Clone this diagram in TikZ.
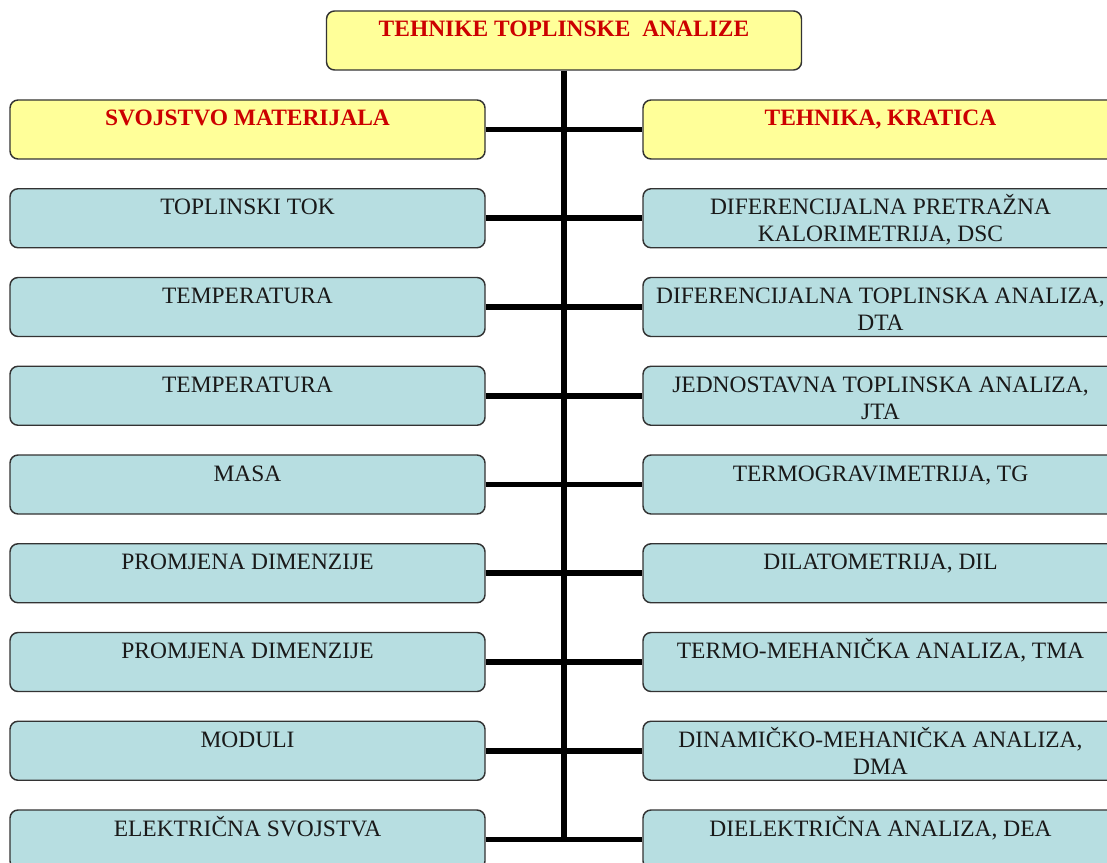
\documentclass[tikz,border=0pt]{standalone}
\usepackage{fontspec}
\setmainfont{Liberation Serif}
\definecolor{boxyellow}{RGB}{255,255,153}
\definecolor{boxblue}{RGB}{183,222,225}
\definecolor{headred}{RGB}{204,0,0}
\newcommand{\boxtext}[1]{\parbox[c][44.25pt][t]{356.25pt}{\centering\rule{0pt}{19.5pt}#1}}
\tikzset{
  box/.style={draw=black!80, line width=1.1pt, rounded corners=6pt, inner sep=0pt,
              font=\fontsize{17.6}{20.25}\selectfont},
  headbox/.style={box, fill=boxyellow, text=headred,
              font=\fontsize{17.6}{20.25}\selectfont\bfseries},
  itembox/.style={box, fill=boxblue, text=black!90},
  link/.style={line width=4.2pt, black}
}
\begin{document}
\begin{tikzpicture}[x=0.75pt,y=-0.75pt]
\useasboundingbox (0,0) rectangle (1107,863);

% Title box
\node [headbox] (title) at (564,40.5) {\boxtext{TEHNIKE TOPLINSKE~ ANALIZE}};

% Column headers
\node [headbox] (l0) at (247.5,129.5) {\boxtext{SVOJSTVO MATERIJALA}};
\node [headbox] (r0) at (880.5,129.5) {\boxtext{TEHNIKA, KRATICA}};

% Row 1
\node [itembox] (l1) at (247.5,218.25) {\boxtext{TOPLINSKI TOK}};
\node [itembox] (r1) at (880.5,218.25) {\boxtext{DIFERENCIJALNA PRETRAŽNA\\KALORIMETRIJA, DSC}};

% Row 2
\node [itembox] (l2) at (247.5,307) {\boxtext{TEMPERATURA}};
\node [itembox] (r2) at (880.5,307) {\boxtext{DIFERENCIJALNA TOPLINSKA ANALIZA,\\DTA}};

% Row 3
\node [itembox] (l3) at (247.5,395.75) {\boxtext{TEMPERATURA}};
\node [itembox] (r3) at (880.5,395.75) {\boxtext{JEDNOSTAVNA TOPLINSKA ANALIZA,\\JTA}};

% Row 4
\node [itembox] (l4) at (247.5,484.5) {\boxtext{MASA}};
\node [itembox] (r4) at (880.5,484.5) {\boxtext{TERMOGRAVIMETRIJA, TG}};

% Row 5
\node [itembox] (l5) at (247.5,573.25) {\boxtext{PROMJENA DIMENZIJE}};
\node [itembox] (r5) at (880.5,573.25) {\boxtext{DILATOMETRIJA, DIL}};

% Row 6
\node [itembox] (l6) at (247.5,662) {\boxtext{PROMJENA DIMENZIJE}};
\node [itembox] (r6) at (880.5,662) {\boxtext{TERMO-MEHANIČKA ANALIZA, TMA}};

% Row 7
\node [itembox] (l7) at (247.5,750.75) {\boxtext{MODULI}};
\node [itembox] (r7) at (880.5,750.75) {\boxtext{DINAMIČKO-MEHANIČKA ANALIZA,\\DMA}};

% Row 8
\node [itembox] (l8) at (247.5,839.5) {\boxtext{ELEKTRIČNA SVOJSTVA}};
\node [itembox] (r8) at (880.5,839.5) {\boxtext{DIELEKTRIČNA ANALIZA, DEA}};

% Trunk
\draw [link] (title.south) -- (title.south |- l8.east);

% Branches
\draw [link] (l0.east) -- (r0.west);
\draw [link] (l1.east) -- (r1.west);
\draw [link] (l2.east) -- (r2.west);
\draw [link] (l3.east) -- (r3.west);
\draw [link] (l4.east) -- (r4.west);
\draw [link] (l5.east) -- (r5.west);
\draw [link] (l6.east) -- (r6.west);
\draw [link] (l7.east) -- (r7.west);
\draw [link] (l8.east) -- (r8.west);
\end{tikzpicture}
\end{document}
